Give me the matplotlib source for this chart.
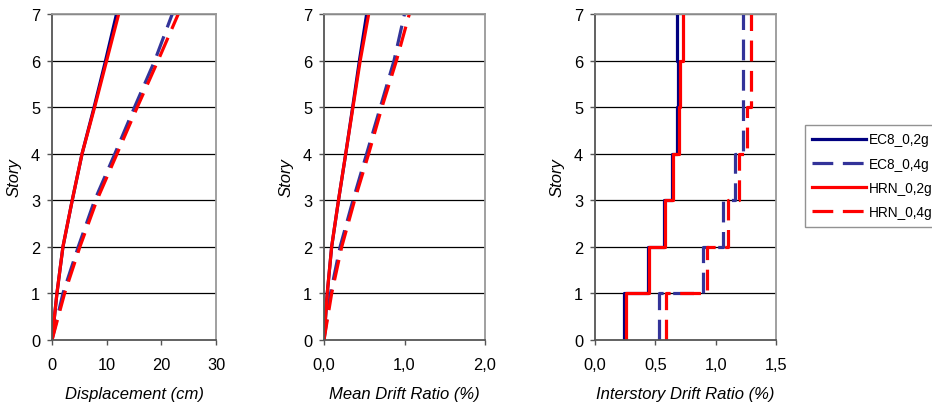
import numpy as np
import matplotlib
matplotlib.use("Agg")
import matplotlib.pyplot as plt

plt.rcParams['font.family'] = ['Liberation Sans', 'DejaVu Sans']

stories = [0, 1, 2, 3, 4, 5, 6, 7]

# Displacement (cm)
disp_ec8_02 = [0, 0.9, 2.0, 3.7, 5.5, 7.7, 9.8, 11.8]
disp_ec8_04 = [0, 2.0, 4.8, 7.8, 11.5, 15.1, 18.8, 22.0]
disp_hrn_02 = [0, 0.9, 2.0, 3.7, 5.5, 7.8, 10.0, 12.2]
disp_hrn_04 = [0, 2.3, 5.1, 8.2, 11.9, 15.6, 19.4, 23.1]

# Mean drift ratio (%)
mdr_ec8_02 = [0, 0.04, 0.095, 0.18, 0.27, 0.356, 0.44, 0.53]
mdr_ec8_04 = [0, 0.08, 0.20, 0.36, 0.53, 0.70, 0.87, 1.00]
mdr_hrn_02 = [0, 0.04, 0.095, 0.18, 0.27, 0.36, 0.45, 0.555]
mdr_hrn_04 = [0, 0.095, 0.22, 0.38, 0.555, 0.72, 0.90, 1.06]

# Interstory drift ratio (%) per story (0-1, 1-2, ..., 6-7)
idr_ec8_02 = [0.243, 0.442, 0.572, 0.638, 0.677, 0.685, 0.677]
idr_ec8_04 = [0.533, 0.892, 1.061, 1.157, 1.229, 1.229, 1.229]
idr_hrn_02 = [0.254, 0.450, 0.580, 0.649, 0.696, 0.704, 0.732]
idr_hrn_04 = [0.588, 0.931, 1.099, 1.196, 1.262, 1.293, 1.293]

labels = ["EC8_0,2g", "EC8_0,4g", "HRN_0,2g", "HRN_0,4g"]
colors = ["#000080", "#333399", "#FF0000", "#FF0000"]
dashed = [False, True, False, True]

x1_ticks = [0, 10, 20, 30]
x1_labels = ["0", "10", "20", "30"]
x2_ticks = [0.0, 1.0, 2.0]
x2_labels = ["0,0", "1,0", "2,0"]
x3_ticks = [0.0, 0.5, 1.0, 1.5]
x3_labels = ["0,0", "0,5", "1,0", "1,5"]

W, H = 932, 406
fig = plt.figure(figsize=(W / 100, H / 100), dpi=100)

def box(l, r, t, b):
    return [l / W, 1 - b / H, (r - l) / W, (b - t) / H]

ax1 = fig.add_axes(box(52, 216, 15, 341))
ax2 = fig.add_axes(box(324, 485, 15, 341))
ax3 = fig.add_axes(box(595, 776, 15, 341))

LW = 2.3
DASH = (6.5, 3)

def style(ax, xt, xl, xlabel, xlim):
    ax.set_ylim(0, 7)
    ax.set_xlim(*xlim)
    ax.set_yticks(stories)
    ax.set_xticks(xt)
    ax.set_xticklabels(xl)
    ax.tick_params(axis='both', direction='out', length=3.5, width=1, color='#555555',
                   labelsize=11.8)
    ax.tick_params(axis='y', pad=5)
    ax.tick_params(axis='x', pad=9)
    for y in stories[1:]:
        ax.axhline(y, color='black', lw=0.9, zorder=0)
    for s in ['top', 'right']:
        ax.spines[s].set_color('#999999')
        ax.spines[s].set_linewidth(1.3)
    for s in ['left', 'bottom']:
        ax.spines[s].set_color('#555555')
        ax.spines[s].set_linewidth(1.3)
    ax.set_ylabel("Story", fontsize=12, style='italic', labelpad=7)
    ax.set_xlabel(xlabel, fontsize=12, style='italic', labelpad=10)

handles = []
for data, ax in [((disp_ec8_02, disp_ec8_04, disp_hrn_02, disp_hrn_04), ax1),
                 ((mdr_ec8_02, mdr_ec8_04, mdr_hrn_02, mdr_hrn_04), ax2)]:
    hs = []
    for d, c, ds, lab in zip(data, colors, dashed, labels):
        ln, = ax.plot(d, stories, color=c, lw=LW, label=lab)
        if ds:
            ln.set_dashes(DASH)
        hs.append(ln)
    handles = hs

for d, c, ds in zip((idr_ec8_02, idr_ec8_04, idr_hrn_02, idr_hrn_04), colors, dashed):
    xs = np.repeat(d, 2)
    ys = np.repeat(stories, 2)[1:-1]
    ln, = ax3.plot(xs, ys, color=c, lw=LW)
    if ds:
        ln.set_dashes(DASH)

style(ax1, x1_ticks, x1_labels, "Displacement (cm)", (0, 30))
style(ax2, x2_ticks, x2_labels, "Mean Drift Ratio (%)", (0, 2.0))
style(ax3, x3_ticks, x3_labels, "Interstory Drift Ratio (%)", (0, 1.5))

leg = fig.legend(handles, labels, loc='upper left',
                 bbox_to_anchor=(805 / W, 1 - 126 / H), fontsize=9.8,
                 frameon=True, fancybox=False, handlelength=3.9,
                 handletextpad=0.25, labelspacing=0.75, borderpad=0.55,
                 borderaxespad=0)
leg.get_frame().set_edgecolor('#777777')
leg.get_frame().set_linewidth(1.0)

fig.savefig("out.png", dpi=100)
